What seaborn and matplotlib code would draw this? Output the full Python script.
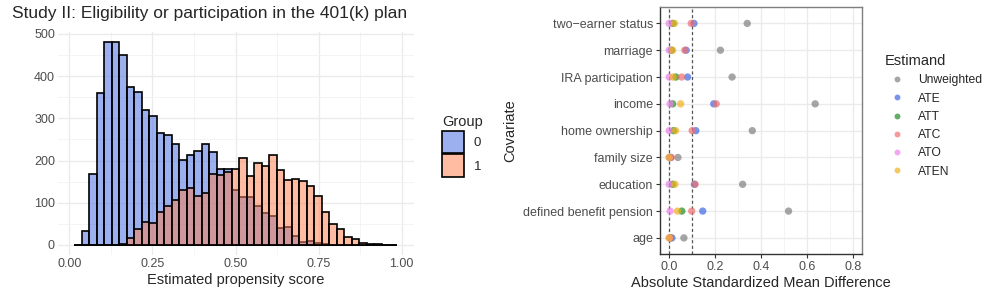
import numpy as np
import pandas as pd
import seaborn as sns
import matplotlib.pyplot as plt
from matplotlib.ticker import MultipleLocator

# ---- left panel: propensity score histogram counts (43 bins) ----
bin_start = 0.014
bin_width = 0.0226
group0_counts = [0, 34, 167, 360, 480, 480, 449, 374, 362, 319, 306, 266, 260, 240,
                 201, 214, 222, 239, 220, 181, 179, 130, 113, 113, 92, 75, 69, 40,
                 43, 22, 8, 10, 5, 1, 0, 0, 0, 0, 0, 0, 0, 0, 0]
group1_counts = [0, 0, 0, 0, 0, 0, 1, 17, 37, 55, 51, 77, 93, 107,
                 129, 134, 116, 124, 167, 166, 172, 179, 205, 164, 195, 186, 213, 178,
                 154, 156, 152, 139, 117, 77, 49, 38, 18, 14, 4, 1, 1, 0, 0]

# ---- right panel: balance (absolute SMD) ----
covariates = ["age", "defined benefit pension", "education", "family size",
              "home ownership", "income", "IRA participation", "marriage",
              "two\u2212earner status"]
estimands = ["Unweighted", "ATE", "ATT", "ATC", "ATO", "ATEN"]
smd_unweighted = [0.064, 0.520, 0.320, 0.038, 0.362, 0.636, 0.274, 0.223, 0.340]
smd_ate = [0.012, 0.146, 0.110, 0.006, 0.116, 0.194, 0.080, 0.074, 0.108]
smd_att = [0.004, 0.055, 0.015, 0.003, 0.019, 0.015, 0.029, 0.010, 0.016]
smd_atc = [0.005, 0.098, 0.113, 0.009, 0.100, 0.205, 0.054, 0.068, 0.096]
smd_ato = [0.000, 0.004, 0.000, 0.000, 0.000, 0.004, 0.000, 0.000, 0.000]
smd_aten = [0.000, 0.036, 0.025, 0.000, 0.028, 0.050, 0.017, 0.015, 0.023]

group_colors = {"0": "royalblue", "1": "coral"}
estimand_colors = {"Unweighted": "#808080", "ATE": "royalblue", "ATT": "forestgreen",
                   "ATC": "#F07070", "ATO": "violet", "ATEN": "#F2B01E"}

sns.set_theme(style="whitegrid", rc={"grid.color": "#EBEBEB"})
plt.rcParams["font.family"] = ["Liberation Sans", "DejaVu Sans"]

edges = [bin_start + bin_width * i for i in range(len(group0_counts) + 1)]
centers = [(a + b) / 2 for a, b in zip(edges[:-1], edges[1:])]
hist_df = pd.DataFrame({
    "score": centers + centers,
    "count": group0_counts + group1_counts,
    "Group": ["0"] * len(centers) + ["1"] * len(centers),
})

fig = plt.figure(figsize=(9.97, 2.99), dpi=100)
ax1 = fig.add_axes([0.0579, 0.147, 0.357, 0.745])
ax2 = fig.add_axes([0.662, 0.1505, 0.2026, 0.825])

for g in ["0", "1"]:
    sns.histplot(data=hist_df[hist_df["Group"] == g], x="score", weights="count",
                 bins=edges, color=group_colors[g], alpha=0.52, edgecolor="black",
                 linewidth=1.2, label=g, ax=ax1)

ax1.set_xlim(-0.035, 1.036)
ax1.set_ylim(-24, 504)
ax1.set_xticks([0, 0.25, 0.5, 0.75, 1.0])
ax1.set_xticklabels(["0.00", "0.25", "0.50", "0.75", "1.00"])
ax1.set_yticks([0, 100, 200, 300, 400, 500])
ax1.xaxis.set_minor_locator(MultipleLocator(0.125))
ax1.yaxis.set_minor_locator(MultipleLocator(50))
ax1.grid(which="major", color="#EBEBEB", lw=1.0)
ax1.grid(which="minor", color="#F2F2F2", lw=0.6)
ax1.set_axisbelow(True)
for s in ax1.spines.values():
    s.set_visible(False)
ax1.tick_params(axis="both", labelsize=9, colors="#4D4D4D", length=0, pad=2)
ax1.set_xlabel("Estimated propensity score", fontsize=10.5, labelpad=2)
ax1.set_ylabel("")
leg1 = ax1.legend(title="Group", loc="center left", bbox_to_anchor=(1.065, 0.49),
                  borderaxespad=0, frameon=False, fontsize=9.5, title_fontsize=10.5,
                  handlelength=1.7, handleheight=2.2, handletextpad=0.7,
                  labelspacing=0.12)
leg1._legend_box.align = "left"
fig.text(0.012, 0.955, "Study II: Eligibility or participation in the 401(k) plan",
         fontsize=12.5, va="center", ha="left")

smd_df = pd.DataFrame({
    "covariate": covariates * len(estimands),
    "smd": smd_unweighted + smd_ate + smd_att + smd_atc + smd_ato + smd_aten,
    "Estimand": [e for e in estimands for _ in covariates],
})
ax2.axvline(0, ls=(0, (2.5, 2)), color="#555555", lw=0.9, zorder=1)
ax2.axvline(0.1, ls=(0, (2.5, 2)), color="#555555", lw=0.9, zorder=1)
sns.scatterplot(data=smd_df, x="smd", y="covariate", hue="Estimand",
                hue_order=estimands, palette=estimand_colors, s=28, alpha=0.7,
                edgecolor="none", ax=ax2, zorder=3)
ax2.set_xlim(-0.04, 0.84)
ax2.set_ylim(-0.6, 8.6)
ax2.set_xticks([0, 0.2, 0.4, 0.6, 0.8])
ax2.set_xticklabels(["0.0", "0.2", "0.4", "0.6", "0.8"])
ax2.xaxis.set_minor_locator(MultipleLocator(0.1))
ax2.grid(which="major", color="#EBEBEB", lw=1.0)
ax2.grid(which="minor", axis="x", color="#F2F2F2", lw=0.6)
ax2.set_axisbelow(True)
for s in ax2.spines.values():
    s.set_visible(True)
    s.set_color("#7F7F7F")
    s.set_linewidth(1.0)
ax2.spines["left"].set_color("#333333")
ax2.spines["bottom"].set_color("#333333")
ax2.tick_params(axis="both", labelsize=9, labelcolor="#4D4D4D", color="#333333",
                length=3, width=0.8, pad=2, left=True, bottom=True)
ax2.set_xlabel("Absolute Standardized Mean Difference", fontsize=10.5, labelpad=2)
ax2.set_ylabel("Covariate", fontsize=10.5, labelpad=4)
leg2 = ax2.legend(title="Estimand", loc="center left", bbox_to_anchor=(1.09, 0.56),
                  borderaxespad=0, frameon=False, fontsize=8.7, title_fontsize=10.5,
                  markerscale=0.8, handletextpad=0.75, labelspacing=0.52)
leg2._legend_box.align = "left"

fig.savefig("out.png", dpi=100)
